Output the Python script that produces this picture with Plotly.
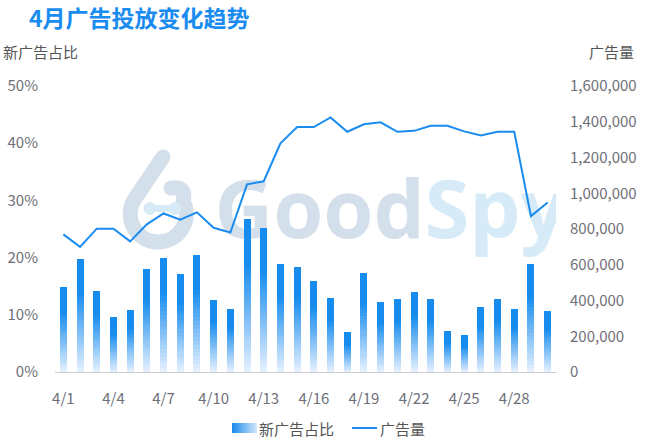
import base64
import plotly.graph_objects as go

# ---------------- data ----------------
dates = ["4/1", "4/2", "4/3", "4/4", "4/5", "4/6", "4/7", "4/8", "4/9", "4/10",
         "4/11", "4/12", "4/13", "4/14", "4/15", "4/16", "4/17", "4/18", "4/19", "4/20",
         "4/21", "4/22", "4/23", "4/24", "4/25", "4/26", "4/27", "4/28", "4/29", "4/30"]
new_ad_ratio = [0.148, 0.198, 0.142, 0.096, 0.109, 0.180, 0.200, 0.172, 0.205, 0.126,
                0.111, 0.267, 0.252, 0.188, 0.184, 0.159, 0.130, 0.069, 0.173, 0.123,
                0.127, 0.140, 0.127, 0.072, 0.065, 0.113, 0.127, 0.111, 0.188, 0.107]
ad_volume = [770000, 700000, 802000, 802000, 731000, 826000, 887000, 852000, 893000, 807000,
             780000, 1050000, 1067000, 1279000, 1370000, 1370000, 1424000, 1344000, 1386000, 1397000,
             1344000, 1349000, 1377000, 1377000, 1346000, 1323000, 1344000, 1344000, 872000, 948000]
x_tick_labels = ["4/1", "4/4", "4/7", "4/10", "4/13", "4/16", "4/19", "4/22", "4/25", "4/28"]
left_ticks = [0, 0.1, 0.2, 0.3, 0.4, 0.5]
right_ticks = [0, 200000, 400000, 600000, 800000, 1000000, 1200000, 1400000, 1600000]

title_text = "4月广告投放变化趋势"
left_name = "新广告占比"
right_name = "广告量"
watermark = ['<span style="color:#d3dfeb">Good</span><span style="color:#d6eaf7">Spy</span>&#8201;']

# ---------------- layout geometry ----------------
W, H = 659, 442
L, R, T, B = 55, 103, 86, 70
PW, PH = W - L - R, H - T - B


def px(x):
    return (x - L) / PW


def py(y):
    return (H - B - y) / PH


BLUE = "#1a8cf0"
TICK_COLOR = "#6e7079"
FONT = "Noto Sans CJK SC"
TOP = (22, 140, 238)
BOT = (232, 241, 255)
K = 30


def seg_color(f):
    # f: 0 at bar top, 1 at bar bottom
    if f <= 0.3:
        c = TOP
    else:
        s = (f - 0.3) / 0.7
        c = tuple(round(TOP[i] + (BOT[i] - TOP[i]) * s) for i in range(3))
    return "rgb(%d,%d,%d)" % c


fig = go.Figure()

# watermark text (drawn on the base subplot, under bars and line)
fig.add_trace(go.Scatter(
    x=["4/21"], y=[0.270], mode="text", text=watermark,
    textposition="middle center",
    textfont=dict(family="Open Sans", size=81, weight="bold"),
    hoverinfo="skip", showlegend=False, xaxis="x", yaxis="y"))

# gradient bars as stacked slices
for k in range(K):
    f = 1 - (k + 0.5) / K
    fig.add_trace(go.Bar(
        x=dates, y=[v / K for v in new_ad_ratio],
        marker=dict(color=seg_color(f), line=dict(width=0)),
        hoverinfo="skip", showlegend=False, xaxis="x", yaxis="y2"))

# line
fig.add_trace(go.Scatter(
    x=dates, y=ad_volume, mode="lines", name=right_name,
    line=dict(color=BLUE, width=2), showlegend=False, xaxis="x", yaxis="y3"))

# decorative svg: logo icon + legend symbols
n = len(dates)
svg = f'''<svg xmlns="http://www.w3.org/2000/svg" width="{W}" height="{H}" viewBox="0 0 {W} {H}" preserveAspectRatio="none">
<defs><linearGradient id="g" x1="0" y1="0" x2="1" y2="0"><stop offset="0" stop-color="#1588ea"/><stop offset="1" stop-color="#d5e8fc"/></linearGradient></defs>
<path d="M163,157 L134,200 A28,28 0 1 0 183,201 Q187,186 171,188" fill="none" stroke="#d3dfeb" stroke-width="15" stroke-linecap="round" stroke-linejoin="round"/>
<g fill="#d7ebf7"><circle cx="150" cy="208.5" r="6.5"/><circle cx="175" cy="208.5" r="6.5"/><rect x="150" y="205" width="25" height="7"/></g>
<rect x="232" y="423" width="25" height="10" fill="url(#g)"/>
<line x1="352" y1="428" x2="377" y2="428" stroke="{BLUE}" stroke-width="2"/>
</svg>'''
src = "data:image/svg+xml;base64," + base64.b64encode(svg.encode("utf-8")).decode("ascii")

label_idx = [dates.index(t) for t in x_tick_labels]
boundary_ticks = [i - 0.5 for i in label_idx] + [n - 0.5]

fig.update_layout(
    width=W, height=H, autosize=False,
    margin=dict(l=L, r=R, t=T, b=B, pad=0, autoexpand=False),
    paper_bgcolor="white", plot_bgcolor="rgba(0,0,0,0)",
    showlegend=False, barmode="stack", bargap=0.58,
    font=dict(family=FONT, color=TICK_COLOR),
    xaxis=dict(type="category", categoryorder="array", categoryarray=dates,
               range=[-0.5, n - 0.5], tickvals=x_tick_labels, ticks="",
               showline=True, linecolor="#cccccc", linewidth=1, showgrid=False,
               zeroline=False, tickfont=dict(size=15, color=TICK_COLOR),
               ticklabelstandoff=13, automargin=False),
    xaxis2=dict(overlaying="x", anchor="y", type="linear", range=[-0.5, n - 0.5],
                tickvals=boundary_ticks, ticks="outside", ticklen=5, tickcolor="#cccccc",
                showticklabels=False, showgrid=False, zeroline=False, showline=False,
                automargin=False),
    yaxis=dict(range=[0, 0.5], tickvals=left_ticks, tickformat=".0%", showgrid=False,
               zeroline=False, ticks="", showline=False, automargin=False,
               tickfont=dict(size=15, color=TICK_COLOR), ticklabelstandoff=16),
    yaxis2=dict(overlaying="y", range=[0, 0.5], visible=False, automargin=False),
    yaxis3=dict(overlaying="y", side="right", range=[0, 1600000], tickvals=right_ticks,
                tickformat=",", showgrid=False, zeroline=False, ticks="", showline=False,
                automargin=False,
                tickfont=dict(size=15, color=TICK_COLOR), ticklabelstandoff=13),
    images=[dict(source=src, xref="paper", yref="paper", x=px(0), y=py(0),
                 sizex=W / PW, sizey=H / PH, xanchor="left", yanchor="top",
                 sizing="stretch", layer="below")],
    annotations=[
        dict(text=title_text, xref="paper", yref="paper", x=px(27), y=py(17),
             xanchor="left", yanchor="middle", showarrow=False,
             font=dict(family=FONT, size=23, color=BLUE, weight="bold")),
        dict(text=left_name, xref="paper", yref="paper", x=px(1), y=py(52),
             xanchor="left", yanchor="middle", showarrow=False,
             font=dict(family=FONT, size=15, color="#555555")),
        dict(text=right_name, xref="paper", yref="paper", x=px(611), y=py(52),
             xanchor="center", yanchor="middle", showarrow=False,
             font=dict(family=FONT, size=15, color="#555555")),
        dict(text=left_name, xref="paper", yref="paper", x=px(257), y=py(428),
             xanchor="left", yanchor="middle", showarrow=False,
             font=dict(family=FONT, size=15, color="#555555")),
        dict(text=right_name, xref="paper", yref="paper", x=px(378), y=py(428),
             xanchor="left", yanchor="middle", showarrow=False,
             font=dict(family=FONT, size=15, color="#555555")),
    ],
)

fig.write_html("out.html", config={"displayModeBar": False},
               post_script="document.body.style.margin='0';")
